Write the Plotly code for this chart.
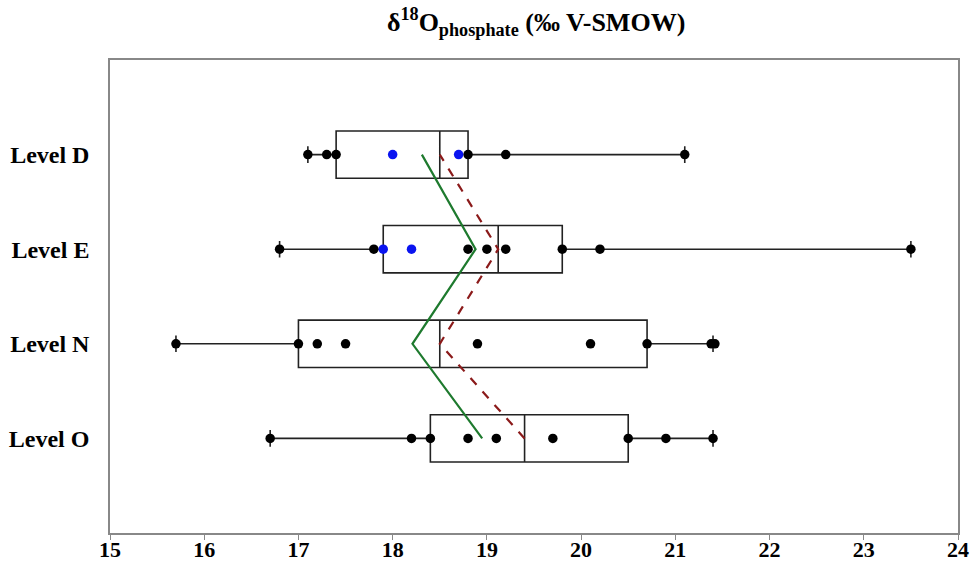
import plotly.graph_objects as go

levels = ["Level O", "Level N", "Level E", "Level D"]

# box statistics (per level, same order as levels)
q1 = [18.4, 17.0, 17.9, 17.4]
median = [19.4, 18.5, 19.12, 18.5]
q3 = [20.5, 20.7, 19.8, 18.8]
lowerfence = [16.7, 15.7, 16.8, 17.1]
upperfence = [21.4, 21.4, 23.5, 21.1]

# individual measurements (black)
pts_O = [16.7, 18.2, 18.4, 18.8, 19.1, 19.7, 20.5, 20.9, 21.4]
pts_N = [15.7, 17.0, 17.2, 17.5, 18.9, 20.1, 20.7, 21.38, 21.42]
pts_E = [16.8, 17.8, 18.8, 19.0, 19.2, 19.8, 20.2, 23.5]
pts_D = [17.1, 17.3, 17.4, 18.8, 19.2, 21.1]
# blue measurements
blue_E = [17.9, 18.2]
blue_D = [18.0, 18.7]

# mean line (green) and median line (red dashed)
mean_line = [18.95, 18.21, 18.88, 18.31]

x_ticks = [15, 16, 17, 18, 19, 20, 21, 22, 23, 24]

serif = "Liberation Serif, Times New Roman, serif"

fig = go.Figure()

for i, lev in enumerate(levels):
    fig.add_trace(go.Box(
        y=[lev], q1=[q1[i]], median=[median[i]], q3=[q3[i]],
        lowerfence=[lowerfence[i]], upperfence=[upperfence[i]],
        orientation="h", boxpoints=False, width=0.5, whiskerwidth=0.35,
        fillcolor="white", line=dict(color="#222222", width=1.6),
        showlegend=False,
    ))

fig.add_trace(go.Scatter(
    x=mean_line, y=levels, mode="lines",
    line=dict(color="#1e7a2e", width=2.2), showlegend=False))
fig.add_trace(go.Scatter(
    x=median, y=levels, mode="lines",
    line=dict(color="#8b1a1a", width=2.2, dash="dash"), showlegend=False))

black_x, black_y = [], []
for lev, pts in zip(levels, [pts_O, pts_N, pts_E, pts_D]):
    black_x += pts
    black_y += [lev] * len(pts)
fig.add_trace(go.Scatter(
    x=black_x, y=black_y, mode="markers",
    marker=dict(color="black", size=9.5), showlegend=False))

blue_x = blue_E + blue_D
blue_y = ["Level E"] * len(blue_E) + ["Level D"] * len(blue_D)
fig.add_trace(go.Scatter(
    x=blue_x, y=blue_y, mode="markers",
    marker=dict(color="#0a14f0", size=9.5), showlegend=False))

fig.update_layout(
    width=973, height=564,
    margin=dict(l=110, r=15, t=60, b=31),
    paper_bgcolor="white", plot_bgcolor="white",
    title=dict(
        text="δ<sup>18</sup>O<sub>phosphate</sub> (‰ V-SMOW)",
        x=0.551, xanchor="center", y=0.962, yanchor="middle",
        font=dict(family=serif, size=26, color="black", weight="bold"),
    ),
    xaxis=dict(
        range=[15, 24], tickvals=x_ticks, ticktext=[str(t) for t in x_ticks],
        showgrid=False, zeroline=False, automargin=False,
        showline=True, mirror=True, linecolor="#888888", linewidth=1.5,
        ticks="outside", ticklen=5, tickcolor="#888888",
        ticklabelstandoff=-9,
        tickfont=dict(family=serif, size=22, color="black", weight="bold"),
    ),
    yaxis=dict(
        type="category", categoryorder="array", categoryarray=levels,
        range=[-1, 4], showgrid=False, zeroline=False, automargin=False,
        showline=True, mirror=True, linecolor="#888888", linewidth=1.5,
        ticks="", ticklabelstandoff=14,
        tickfont=dict(family=serif, size=24, color="black", weight="bold"),
    ),
)

fig.write_html("out.html")
